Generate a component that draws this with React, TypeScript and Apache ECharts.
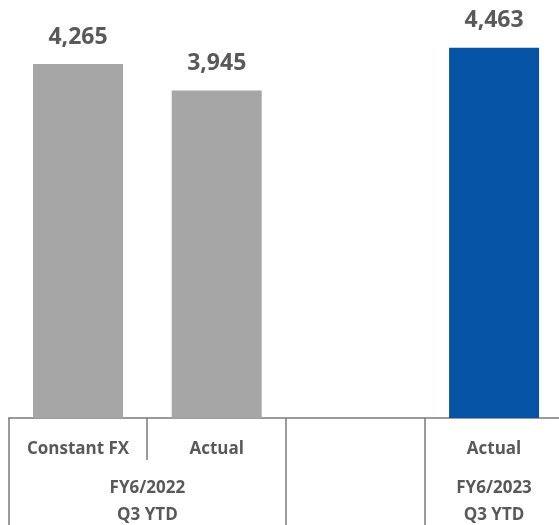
import React, { useEffect, useRef } from "react";
import * as echarts from "echarts";

const categories = ["Constant FX", "Actual", "", "Actual"];
const values: (number | null)[] = [4265, 3945, null, 4463];
const barColors = ["#a6a6a6", "#a6a6a6", "#a6a6a6", "#0553a5"];
const groupLabels = ["FY6/2022\nQ3 YTD", "FY6/2023\nQ3 YTD"];
const groupSpans = [
  [0, 1],
  [3, 3],
];

const FONT = "'Open Sans', 'Noto Sans', sans-serif";
const TEXT = "#595959";
const LINE = "#7a7a7a";

export default function App() {
  const ref = useRef<HTMLDivElement>(null);
  useEffect(() => {
    if (!ref.current) return;
    const chart = echarts.init(ref.current, undefined, { renderer: "svg" });
    const gridTop = 18;
    const gridBottom = 107;
    chart.setOption({
      animation: false,
      grid: { left: 8.7, right: 1.6, top: gridTop, bottom: gridBottom },
      xAxis: {
        type: "category",
        data: categories,
        axisLine: { show: true, lineStyle: { color: LINE, width: 1.5 } },
        axisTick: { show: false },
        axisLabel: {
          interval: 0,
          margin: 19,
          fontFamily: FONT,
          fontWeight: "bold",
          fontSize: 17,
          lineHeight: 20,
          color: TEXT,
        },
      },
      yAxis: { type: "value", min: 0, max: 4820, show: false, splitLine: { show: false } },
      series: [
        {
          type: "bar",
          barWidth: 90,
          data: values.map((v, i) => ({ value: v, itemStyle: { color: barColors[i] } })),
          label: {
            show: true,
            position: "top",
            distance: 18,
            fontFamily: FONT,
            fontWeight: "bold",
            fontSize: 23,
            color: TEXT,
            formatter: (p: any) => Number(p.value).toLocaleString("en-US"),
          },
        },
      ],
    });

    const px = (i: number) => chart.convertToPixel({ xAxisIndex: 0 }, i) as number;
    const band = px(1) - px(0);
    const base = chart.getHeight() - gridBottom;
    const bottom = chart.getHeight();
    const graphic: any[] = [];
    for (let i = 0; i <= categories.length; i++) {
      const x = Math.round(px(0) + (i - 0.5) * band);
      const inner = groupSpans.some(([s, e]) => i > s && i <= e);
      graphic.push({
        type: "line",
        shape: { x1: x, y1: base, x2: x, y2: inner ? base + 42 : bottom },
        style: { stroke: LINE, lineWidth: 1.5 },
        silent: true,
      });
    }
    groupSpans.forEach(([s, e], gi) => {
      const cx = (px(s) + px(e)) / 2;
      graphic.push({
        type: "text",
        x: cx,
        y: base + 82,
        style: {
          text: groupLabels[gi],
          align: "center",
          verticalAlign: "middle",
          fontFamily: FONT,
          fontWeight: "bold",
          fontSize: 17,
          lineHeight: 27,
          fill: TEXT,
        },
        silent: true,
      });
    });
    chart.setOption({ graphic });

    return () => chart.dispose();
  }, []);
  return (
    <div
      ref={ref}
      style={{ position: "fixed", left: 0, top: 0, width: 565, height: 525 }}
    />
  );
}
